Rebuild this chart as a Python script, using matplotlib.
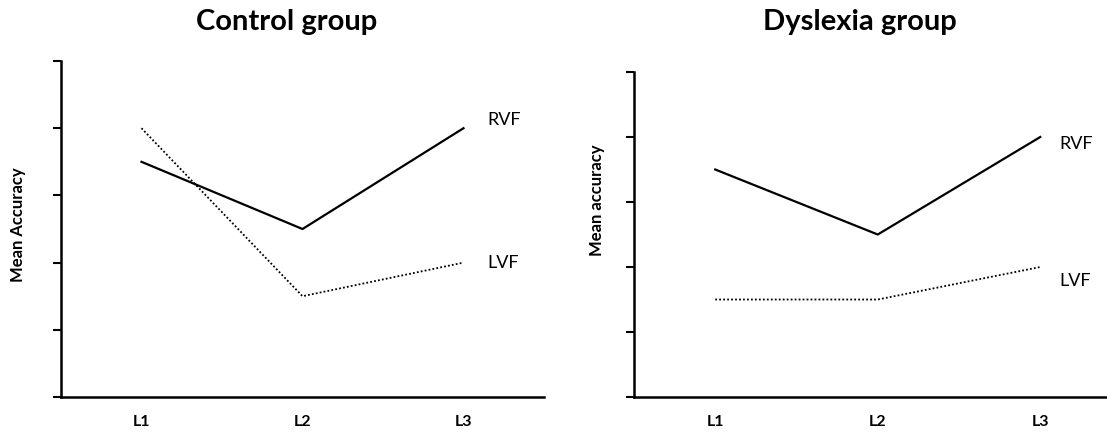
import matplotlib
matplotlib.use('Agg')
import matplotlib.pyplot as plt

plt.rcParams['font.family'] = ['Lato', 'DejaVu Sans']

levels = ['L1', 'L2', 'L3']
x = [1, 2, 3]

# control group
ctrl_rvf = [3.5, 2.5, 4.0]
ctrl_lvf = [4.0, 1.5, 2.0]
# dyslexia group
dys_rvf = [3.5, 2.5, 4.0]
dys_lvf = [1.5, 1.5, 2.0]

fig = plt.figure(figsize=(11.07, 4.33), dpi=100)
ax1 = fig.add_axes([0.0551, 0.0831, 0.4363, 0.776])
ax2 = fig.add_axes([0.5727, 0.0831, 0.4404, 0.7506])


def style(ax):
    ax.set_xlim(0.5, 3.5)
    ax.set_ylim(0, 5)
    ax.set_yticks([0, 1, 2, 3, 4, 5])
    ax.set_yticklabels([])
    ax.set_xticks(x)
    ax.set_xticklabels(levels, fontsize=11.5, fontweight='bold')
    ax.tick_params(axis='y', direction='out', length=6, width=1.5)
    ax.tick_params(axis='x', length=0, pad=13)
    ax.spines['top'].set_visible(False)
    ax.spines['right'].set_visible(False)
    ax.spines['left'].set_linewidth(1.8)
    ax.spines['bottom'].set_linewidth(1.8)


for ax, rvf, lvf in [(ax1, ctrl_rvf, ctrl_lvf), (ax2, dys_rvf, dys_lvf)]:
    ax.plot(x, rvf, color='black', linewidth=1.6)
    ax.plot(x, lvf, color='black', linewidth=1.3, linestyle=(0, (1, 1.2)))
    style(ax)

ax1.text(3.15, ctrl_rvf[2] + 0.12, 'RVF', fontsize=13, va='center')
ax1.text(3.15, ctrl_lvf[2], 'LVF', fontsize=13, va='center')
ax2.text(3.12, dys_rvf[2] - 0.1, 'RVF', fontsize=13, va='center')
ax2.text(3.12, dys_lvf[2] - 0.22, 'LVF', fontsize=13, va='center')

fig.text(18 / 1107, 1 - 225 / 433, 'Mean Accuracy', rotation=90, fontsize=12,
         fontweight='bold', ha='center', va='center')
fig.text(597 / 1107, 1 - 200 / 433, 'Mean accuracy', rotation=90, fontsize=12,
         fontweight='bold', ha='center', va='center')

fig.text(287 / 1107, 1 - 22 / 433, 'Control group', fontsize=21,
         fontweight='bold', ha='center', va='center')
fig.text(860 / 1107, 1 - 22 / 433, 'Dyslexia group', fontsize=21,
         fontweight='bold', ha='center', va='center')

fig.savefig('out.png', dpi=100)
